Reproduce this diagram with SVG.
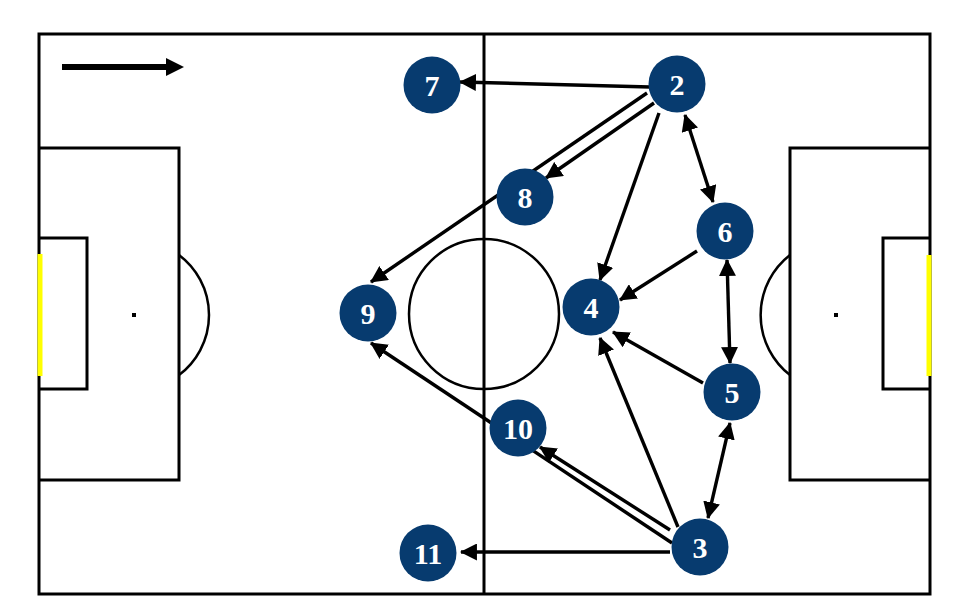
<svg xmlns="http://www.w3.org/2000/svg" width="963" height="615" viewBox="0 0 963 615">
<style>
.pl{fill:none;stroke:#000;stroke-width:3}
.cc{fill:none;stroke:#000;stroke-width:2.5}
.goal{stroke:#ffff00;stroke-width:5}
.c{stroke:#000;stroke-width:3.4;fill:none}
.a{marker-end:url(#ah)}
.d{marker-start:url(#ah);marker-end:url(#ah)}
.n circle{fill:#073b6f}
.n text{fill:#fff;font-family:"Liberation Serif","Times New Roman",serif;font-weight:bold;font-size:30px;text-anchor:middle}
</style>
<defs>
<marker id="ah" viewBox="0 0 16 16" markerWidth="17" markerHeight="17" refX="15" refY="8" orient="auto-start-reverse" markerUnits="userSpaceOnUse">
<path d="M0,0 L16,8 L0,16 z" fill="#000"/>
</marker>
</defs>
<rect width="963" height="615" fill="#fff"/>
<g id="pitch">
<rect class="pl" x="39" y="34" width="891" height="560"/>
<line class="pl" x1="484" y1="34" x2="484" y2="594"/>
<circle class="cc" cx="484" cy="314" r="75"/>
<path class="pl" d="M39,148 H179 V480 H39"/>
<path class="pl" d="M39,238 H87 V389 H39"/>
<path class="cc" d="M179,255 A75,75 0 0 1 179,375"/>
<path class="pl" d="M930,148 H790 V480 H930"/>
<path class="pl" d="M930,238 H883 V389 H930"/>
<path class="cc" d="M790,255 A76,76 0 0 0 790,375"/>
<rect x="132" y="313" width="4" height="4" fill="#000"/>
<rect x="834" y="313" width="4" height="4" fill="#000"/>
<line class="goal" x1="40" y1="254" x2="40" y2="376"/>
<line class="goal" x1="929" y1="255" x2="929" y2="376"/>
</g>
<g id="direction">
<line x1="62" y1="67" x2="168" y2="67" stroke="#000" stroke-width="6"/>
<polygon points="166,58 184,67 166,76" fill="#000"/>
</g>
<g id="connectors">
<line class="c a" x1="650" y1="87" x2="460" y2="82"/>
<line class="c a" x1="647" y1="93" x2="371" y2="282"/>
<line class="c a" x1="654" y1="103" x2="546" y2="178"/>
<line class="c a" x1="659" y1="113" x2="600" y2="280"/>
<line class="c d" x1="685" y1="115" x2="713" y2="202"/>
<line class="c a" x1="697" y1="251" x2="620" y2="300"/>
<line class="c d" x1="727" y1="260" x2="730" y2="363"/>
<line class="c a" x1="703" y1="383" x2="613" y2="332"/>
<line class="c a" x1="678" y1="527" x2="600" y2="338"/>
<line class="c d" x1="730" y1="423" x2="708" y2="518"/>
<line class="c a" x1="672" y1="543" x2="371" y2="343"/>
<line class="c a" x1="670" y1="530" x2="540" y2="447"/>
<line class="c a" x1="670" y1="552" x2="461" y2="552"/>
</g>
<g id="node-7" class="n"><circle cx="432" cy="85" r="28.5"/><text x="432" y="96">7</text></g>
<g id="node-2" class="n"><circle cx="677" cy="84" r="28.5"/><text x="677" y="95">2</text></g>
<g id="node-8" class="n"><circle cx="525" cy="197" r="28.5"/><text x="525" y="208">8</text></g>
<g id="node-9" class="n"><circle cx="368" cy="313" r="28.5"/><text x="368" y="324">9</text></g>
<g id="node-4" class="n"><circle cx="591" cy="307" r="28.5"/><text x="591" y="318">4</text></g>
<g id="node-6" class="n"><circle cx="725" cy="231" r="28.5"/><text x="725" y="242">6</text></g>
<g id="node-5" class="n"><circle cx="732" cy="392" r="28.5"/><text x="732" y="403">5</text></g>
<g id="node-10" class="n"><circle cx="518" cy="428" r="28.5"/><text x="518" y="439">10</text></g>
<g id="node-11" class="n"><circle cx="428" cy="553" r="28.5"/><text x="428" y="564">11</text></g>
<g id="node-3" class="n"><circle cx="700" cy="547" r="28.5"/><text x="700" y="558">3</text></g>
</svg>
